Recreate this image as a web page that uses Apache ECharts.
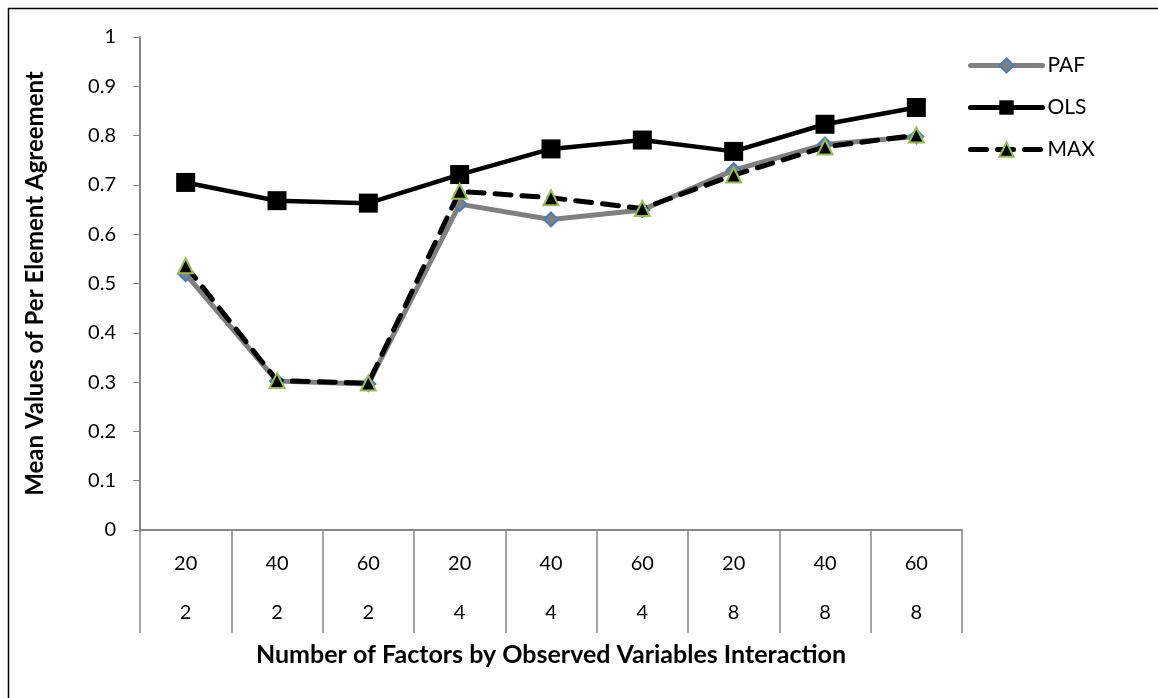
<!DOCTYPE html>
<html>
<head>
<meta charset="utf-8">
<script src="https://cdn.jsdelivr.net/npm/echarts@6/dist/echarts.min.js"></script>
<style>
html,body{margin:0;padding:0;background:#fff;}
#chart{width:1158px;height:698px;}
</style>
</head>
<body>
<div id="chart"></div>
<script>
var observedVars = ["20", "40", "60", "20", "40", "60", "20", "40", "60"];
var factors = ["2", "2", "2", "4", "4", "4", "8", "8", "8"];
var paf = [0.519, 0.302, 0.296, 0.661, 0.630, 0.649, 0.730, 0.782, 0.798];
var ols = [0.705, 0.668, 0.663, 0.721, 0.773, 0.791, 0.768, 0.823, 0.857];
var maxv = [0.536, 0.303, 0.298, 0.687, 0.674, 0.652, 0.720, 0.777, 0.801];
var yTicks = [0, 0.1, 0.2, 0.3, 0.4, 0.5, 0.6, 0.7, 0.8, 0.9, 1];

var categories = observedVars.map(function (v, i) { return v + "|" + factors[i]; });
var FONT = "Lato, 'Liberation Sans', sans-serif";

var chart = echarts.init(document.getElementById('chart'));
chart.setOption({
  backgroundColor: '#fff',
  animation: false,
  graphic: [{
    type: 'rect',
    shape: { x: 8.5, y: 8.5, width: 2000, height: 2000 },
    style: { fill: 'none', stroke: '#000', lineWidth: 1.5 },
    silent: true
  }],
  grid: { left: 140, right: 196, top: 37, bottom: 168, containLabel: false },
  legend: {
    orient: 'vertical',
    left: 963,
    top: 50,
    itemWidth: 72,
    itemHeight: 18,
    itemGap: 21,
    textStyle: { fontFamily: FONT, fontSize: 21, color: '#000' },
    data: [
      { name: 'PAF', lineStyle: { width: 5 } },
      { name: 'OLS', lineStyle: { width: 5 } },
      { name: 'MAX', lineStyle: { width: 5 } }
    ]
  },
  xAxis: {
    type: 'category',
    data: categories,
    boundaryGap: true,
    name: 'Number of Factors by Observed Variables Interaction',
    nameLocation: 'middle',
    nameGap: 112,
    nameTextStyle: { fontFamily: FONT, fontSize: 25, fontWeight: 'bold', color: '#000' },
    axisLine: { lineStyle: { color: '#868686', width: 2 } },
    axisTick: { show: true, interval: 0, length: 103, lineStyle: { color: '#868686', width: 1.5 } },
    axisLabel: {
      interval: 0,
      margin: 9,
      formatter: function (v, i) {
        return '{a|' + observedVars[i] + '}\n{a|' + factors[i] + '}';
      },
      rich: {
        a: { fontFamily: FONT, fontSize: 20, color: '#000', lineHeight: 49, align: 'center' }
      }
    },
    splitLine: { show: false }
  },
  yAxis: {
    type: 'value',
    min: 0,
    max: 1,
    interval: 0.1,
    name: 'Mean Values of Per Element Agreement',
    nameLocation: 'middle',
    nameGap: 93,
    nameTextStyle: { fontFamily: FONT, fontSize: 24, fontWeight: 'bold', color: '#000' },
    axisLine: { show: true, lineStyle: { color: '#868686', width: 2 } },
    axisTick: { show: true, length: 7, lineStyle: { color: '#868686', width: 1 } },
    axisLabel: {
      margin: 24,
      fontFamily: FONT, fontSize: 20, color: '#000',
      formatter: function (v) {
        for (var k = 0; k < yTicks.length; k++) {
          if (Math.abs(yTicks[k] - v) < 1e-9) return String(yTicks[k]);
        }
        return '';
      }
    },
    splitLine: { show: false }
  },
  series: [
    {
      name: 'PAF', type: 'line', data: paf,
      symbol: 'diamond', symbolSize: 14, showSymbol: true,
      lineStyle: { color: '#808080', width: 5, cap: 'round', join: 'round' },
      itemStyle: { color: '#808080', borderColor: '#4a7ebb', borderWidth: 2 },
      z: 2
    },
    {
      name: 'OLS', type: 'line', data: ols,
      symbol: 'rect', symbolSize: 19, showSymbol: true,
      lineStyle: { color: '#000', width: 4.5, cap: 'round', join: 'round' },
      itemStyle: { color: '#000', borderColor: '#000', borderWidth: 0 },
      z: 3
    },
    {
      name: 'MAX', type: 'line', data: maxv,
      symbol: 'triangle', symbolSize: 15, showSymbol: true,
      lineStyle: { color: '#000', width: 5, type: [16, 11], cap: 'round', join: 'round' },
      itemStyle: { color: '#000', borderColor: '#9bbb59', borderWidth: 2 },
      z: 4
    }
  ]
});
</script>
</body>
</html>
